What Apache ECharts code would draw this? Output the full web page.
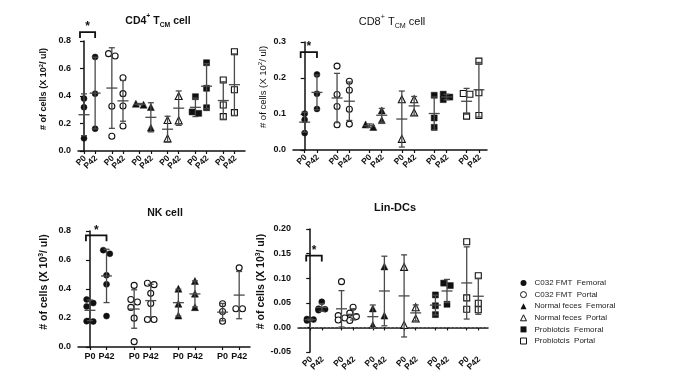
<!DOCTYPE html>
<html><head><meta charset="utf-8">
<script src="https://cdn.jsdelivr.net/npm/echarts@6/dist/echarts.min.js"></script>
<style>html,body{margin:0;padding:0;background:#fff}#c{width:685px;height:390px}</style>
</head><body><div id="c"></div>
<script>
// ---------- DATA ----------
const groupNames = ['C032 FMT  Femoral', 'C032 FMT  Portal', 'Normal feces  Femoral', 'Normal feces  Portal', 'Probiotcis  Femoral', 'Probiotcis  Portal'];
const timeLabels = ['P0', 'P42'];

// CD4+ TCM cell (x10^2 / ul), one array per group
const cd4P0  = [[0.381, 0.318, 0.092], [0.691, 0.708, 0.325, 0.107], [0.337, 0.344], [0.225, 0.092], [0.395, 0.284, 0.274], [0.516, 0.335, 0.250]];
const cd4P42 = [[0.684, 0.417, 0.162], [0.533, 0.417, 0.327, 0.182], [0.320, 0.170], [0.400, 0.223], [0.642, 0.456, 0.315], [0.722, 0.446, 0.279]];

// CD8+ TCM cell (x10^2 / ul)
const cd8P0  = [[0.101, 0.084, 0.047], [0.233, 0.154, 0.121, 0.070], [0.071, 0.064], [0.141, 0.031], [0.152, 0.089, 0.063], [0.157, 0.155, 0.094]];
const cd8P42 = [[0.210, 0.156, 0.114], [0.191, 0.166, 0.113, 0.072], [0.110, 0.083], [0.141, 0.104], [0.155, 0.147, 0.140], [0.247, 0.159, 0.096]];

// NK cell (x10^3 / ul) - four groups
const nkP0  = [[0.328, 0.303, 0.280, 0.176, 0.178], [0.425, 0.328, 0.310, 0.273, 0.199, 0.037], [0.402, 0.298, 0.217], [0.298, 0.245, 0.178]];
const nkP42 = [[0.668, 0.643, 0.495, 0.432, 0.213], [0.430, 0.440, 0.370, 0.300, 0.190, 0.190], [0.455, 0.368, 0.275], [0.546, 0.264, 0.264]];
const nkGroupStyle = [0, 1, 2, 1];

// Lin- DCs (x10^3 / ul)
const linP0  = [[0.014, 0.016, 0.017], [0.093, 0.024, 0.019, 0.015], [0.0386, 0.005], [0.123, 0.005], [0.066, 0.044, 0.026], [0.174, 0.060, 0.037]];
const linP42 = [[0.052, 0.038, 0.035, 0.037], [0.041, 0.029, 0.022, 0.014], [0.124, 0.024], [0.041, 0.018], [0.090, 0.085, 0.047], [0.105, 0.049, 0.036]];

// significance bracket heights (axis units)
const sigLevels = [0.865, 0.272, 0.77, 0.146];

// ---------- STYLE / LAYOUT ----------
const FONT = '"Liberation Sans", Arial, sans-serif';
const INK = '#111';
const BAR = '#4a4a4a';
const symbolStyles = [
  { symbol: 'circle', size: 6, fill: INK },
  { symbol: 'circle', size: 6, fill: '#fff' },
  { symbol: 'triangle', size: 7, fill: INK },
  { symbol: 'triangle', size: 7, fill: '#fff' },
  { symbol: 'rect', size: 6, fill: INK },
  { symbol: 'rect', size: 6, fill: '#fff' }
];

const panels = [
  { P0: cd4P0, P42: cd4P42, styles: [0,1,2,3,4,5], grid: { left: 78, top: 41, width: 167, height: 110 }, xMin: -0.215, xMax: 5.78, d: 0.40,
    yMin: 0, yMax: 0.8, yInt: 0.2, dec: 1, rotate: 45, nameBold: true, nameSize: 9, exp: '2', nameGap: 28, nameShift: 14 },
  { P0: cd8P0, P42: cd8P42, styles: [0,1,2,3,4,5], grid: { left: 293, top: 42, width: 194, height: 108 }, xMin: -0.36, xMax: 5.63, d: 0.38,
    yMin: 0, yMax: 0.3, yInt: 0.1, dec: 1, rotate: 45, nameBold: false, nameSize: 9.5, exp: '2', nameGap: 24, nameShift: 18 },
  { P0: nkP0, P42: nkP42, styles: nkGroupStyle, grid: { left: 78, top: 231, width: 172, height: 116 }, xMin: -0.27, xMax: 3.62, d: 0.375,
    yMin: 0, yMax: 0.8, yInt: 0.2, dec: 1, rotate: 0, nameBold: true, nameSize: 10.5, exp: '3', nameGap: 28, nameShift: 14 },
  { P0: linP0, P42: linP42, styles: [0,1,2,3,4,5], grid: { left: 298, top: 229, width: 190, height: 123 }, xMin: -0.39, xMax: 5.68, d: 0.37,
    yMin: -0.05, yMax: 0.2, yInt: 0.05, dec: 2, rotate: 45, nameBold: true, nameSize: 10.5, exp: '3', nameGap: 29, nameShift: 18 }
];

function mean(a) { return a.reduce((s, v) => s + v, 0) / a.length; }
function sd(a) { const m = mean(a); return Math.sqrt(a.reduce((s, v) => s + (v - m) * (v - m), 0) / (a.length - 1)); }

// deterministic horizontal spread of touching points (scatter-dot style): returns pixel offsets
function spreadOffsets(vals, pxPerY, size) {
  const idx = vals.map((v, i) => i).sort((a, b) => vals[b] - vals[a]);
  const off = new Array(vals.length).fill(0);
  let run = [];
  const flush = () => {
    if (run.length > 1) run.forEach((k, j) => { off[k] = (j % 2 === 0 ? -1 : 1) * size * 0.55; });
    run = [];
  };
  idx.forEach((k, j) => {
    if (j > 0 && (vals[idx[j - 1]] - vals[k]) * pxPerY < size * 0.9) run.push(k);
    else { flush(); run = [k]; }
  });
  flush();
  return off;
}

const grids = [], xAxes = [], yAxes = [], series = [];

panels.forEach((p, pi) => {
  grids.push(Object.assign({ containLabel: false }, p.grid));
  const pxPerY = p.grid.height / (p.yMax - p.yMin);
  const pxPerX = p.grid.width / (p.xMax - p.xMin);
  const positions = [];
  p.P0.forEach((_, g) => { positions.push(g); positions.push(g + p.d); });
  xAxes.push({
    type: 'value', gridIndex: pi, min: p.xMin, max: p.xMax,
    axisLine: { show: true, lineStyle: { color: INK, width: 1.5 } },
    axisTick: { show: true, customValues: positions, length: 3, lineStyle: { color: INK, width: 1.2 } },
    axisLabel: { show: false },
    splitLine: { show: false }
  });
  const w = p.nameBold ? 'bold' : 'normal';
  yAxes.push({
    type: 'value', gridIndex: pi, min: p.yMin, max: p.yMax, interval: p.yInt,
    name: '{t|# of cells (X 10}{s|' + p.exp + '}{t|/ ul)}',
    nameLocation: 'middle', nameGap: p.nameGap, nameRotate: 90,
    nameTextStyle: { padding: [0, 0, 0, p.nameShift], rich: {
      t: { fontFamily: FONT, fontWeight: w, fontSize: p.nameSize, color: INK, lineHeight: 12 },
      s: { fontFamily: FONT, fontWeight: w, fontSize: p.nameSize * 0.65, color: INK, lineHeight: 7, verticalAlign: 'top' }
    } },
    axisLine: { show: true, lineStyle: { color: INK, width: 1.5 } },
    axisTick: { show: true, length: 4, lineStyle: { color: INK, width: 1.2 } },
    axisLabel: { margin: 7, fontFamily: FONT, fontWeight: 'bold', fontSize: 9, color: INK, formatter: v => v.toFixed(p.dec) },
    splitLine: { show: false }
  });

  // scatter points per group
  p.P0.forEach((_, g) => {
    const st = symbolStyles[p.styles[g]];
    const data = [];
    [p.P0[g], p.P42[g]].forEach((vals, k) => {
      const offs = spreadOffsets(vals, pxPerY, st.size);
      vals.forEach((v, i) => data.push([g + k * p.d + offs[i] / pxPerX, v]));
    });
    const s = {
      type: 'scatter', name: groupNames[g], xAxisIndex: pi, yAxisIndex: pi,
      symbol: st.symbol, symbolSize: st.size, data: data, z: 3, silent: true,
      itemStyle: { color: st.fill, borderColor: INK, borderWidth: st.fill === '#fff' ? 1.1 : 0.5, opacity: 1 }
    };
    if (pi === 3 && g === 0) {
      s.markLine = { silent: true, symbol: 'none', label: { show: false },
        lineStyle: { type: [1.5, 2.5], color: '#777', width: 1 }, data: [{ yAxis: 0 }] };
    }
    series.push(s);
  });

  // mean +/- SD bars
  const errData = [];
  p.P0.forEach((_, g) => {
    errData.push([g, mean(p.P0[g]), sd(p.P0[g])]);
    errData.push([g + p.d, mean(p.P42[g]), sd(p.P42[g])]);
  });
  series.push({
    type: 'custom', xAxisIndex: pi, yAxisIndex: pi, z: 4, silent: true, clip: false,
    encode: { x: 0, y: 1 }, data: errData,
    renderItem: function (params, api) {
      const x = api.value(0), m = api.value(1), s = api.value(2);
      const c = api.coord([x, m]), t = api.coord([x, m + s]), b = api.coord([x, m - s]);
      const st = { stroke: BAR, lineWidth: 1.3 };
      return { type: 'group', children: [
        { type: 'line', shape: { x1: c[0], y1: t[1], x2: c[0], y2: b[1] }, style: st },
        { type: 'line', shape: { x1: c[0] - 3, y1: t[1], x2: c[0] + 3, y2: t[1] }, style: st },
        { type: 'line', shape: { x1: c[0] - 3, y1: b[1], x2: c[0] + 3, y2: b[1] }, style: st },
        { type: 'line', shape: { x1: c[0] - 5.5, y1: c[1], x2: c[0] + 5.5, y2: c[1] }, style: st }
      ] };
    }
  });

  // x tick labels (P0 / P42) placed at the axis positions
  series.push({
    type: 'custom', xAxisIndex: pi, yAxisIndex: pi, z: 5, silent: true, clip: false,
    encode: { x: 0, y: 1 },
    data: positions.map((x, i) => [x, p.yMin, i % 2]),
    renderItem: function (params, api) {
      const c = api.coord([api.value(0), api.value(1)]);
      const txt = timeLabels[api.value(2)];
      if (p.rotate) {
        return { type: 'text', x: c[0] + 1, y: c[1] + 6, rotation: p.rotate * Math.PI / 180,
          style: { text: txt, align: 'right', verticalAlign: 'middle', fontFamily: FONT, fontWeight: 'bold', fontSize: 8.5, fill: INK } };
      }
      return { type: 'text', x: c[0], y: c[1] + 5,
        style: { text: txt, align: 'center', verticalAlign: 'top', fontFamily: FONT, fontWeight: 'bold', fontSize: 9, fill: INK } };
    }
  });

  // significance bracket between P0 and P42 of the first group
  series.push({
    type: 'custom', xAxisIndex: pi, yAxisIndex: pi, z: 5, silent: true, clip: false,
    dimensions: ['x0', 'x1', 'y'], encode: { x: [0, 1], y: 2 },
    data: [[0, p.d, sigLevels[pi]]],
    renderItem: function (params, api) {
      const a = api.coord([api.value(0), api.value(2)]);
      const b = api.coord([api.value(1), api.value(2)]);
      const x0 = a[0] - 4, x1 = b[0], y = a[1];
      return { type: 'group', children: [
        { type: 'polyline', shape: { points: [[x0, y + 6], [x0, y], [x1, y], [x1, y + 6]] },
          style: { stroke: INK, lineWidth: 1.8, fill: null } },
        { type: 'text', style: { text: '*', x: (x0 + x1) / 2, y: y - 5, align: 'center', verticalAlign: 'middle',
          fontFamily: FONT, fontWeight: 'bold', fontSize: 12, fill: INK } }
      ] };
    }
  });
});

function titleText(x, y, text, rich) {
  return { type: 'text', x: x, y: y, style: { text: text, rich: rich, align: 'center', verticalAlign: 'middle', fill: INK } };
}
const richT = (w, fs) => ({
  a: { fontFamily: FONT, fontWeight: w, fontSize: fs, color: INK, lineHeight: 16 },
  p: { fontFamily: FONT, fontWeight: w, fontSize: fs * 0.65, color: INK, lineHeight: 8, verticalAlign: 'top' },
  b: { fontFamily: FONT, fontWeight: w, fontSize: fs * 0.65, color: INK, lineHeight: 9, verticalAlign: 'bottom' }
});

const option = {
  backgroundColor: '#fff',
  animation: false,
  grid: grids, xAxis: xAxes, yAxis: yAxes, series: series,
  legend: {
    orient: 'vertical', left: 515, top: 274, itemWidth: 6, itemHeight: 6, itemGap: 3.6,
    selectedMode: false,
    textStyle: { fontFamily: FONT, fontSize: 8, color: '#222', padding: [0, 0, 0, 3], lineHeight: 8 },
    data: groupNames.map((n, i) => ({ name: n, icon: symbolStyles[i].symbol,
      itemStyle: { color: symbolStyles[i].fill, borderColor: INK, borderWidth: symbolStyles[i].fill === '#fff' ? 1 : 0 } }))
  },
  graphic: [
    titleText(158, 21, '{a|CD4}{p|+}{a| T}{b|CM}{a| cell}', richT('bold', 10.5)),
    titleText(392, 22, '{a|CD8}{p|+}{a| T}{b|CM}{a| cell}', richT('normal', 11)),
    titleText(165, 213, '{a|NK cell}', richT('bold', 10.5)),
    titleText(395, 208, '{a|Lin-DCs}', richT('bold', 11))
  ]
};

const chart = echarts.init(document.getElementById('c'), null, { renderer: 'canvas' });
chart.setOption(option);
</script>
</body></html>
